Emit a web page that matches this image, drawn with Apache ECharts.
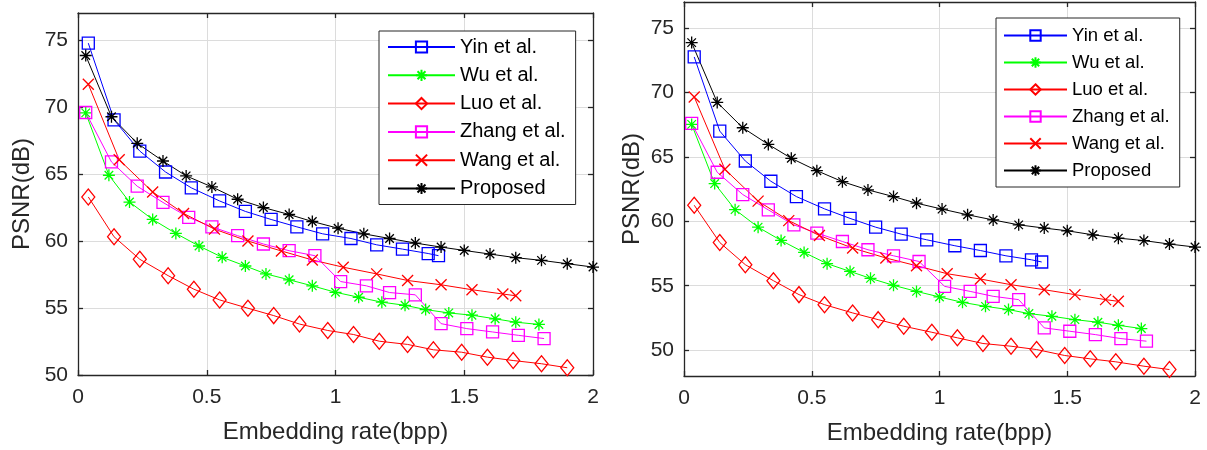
<!DOCTYPE html>
<html>
<head>
<meta charset="utf-8">
<script src="https://cdn.jsdelivr.net/npm/echarts@6/dist/echarts.min.js"></script>
<style>
html, body { margin: 0; padding: 0; background: #fff; }
#main { width: 1207px; height: 450px; }
</style>
</head>
<body>
<div id="main"></div>
<script>
// embedding rates (bpp) per method
var proposedX = [0.03, 0.13, 0.23, 0.33, 0.42, 0.52, 0.62, 0.72, 0.82, 0.91, 1.01, 1.11, 1.21, 1.31, 1.41, 1.5, 1.6, 1.7, 1.8, 1.9, 2.0];
var yinX = [0.04, 0.14, 0.24, 0.34, 0.44, 0.55, 0.65, 0.75, 0.85, 0.95, 1.06, 1.16, 1.26, 1.36, 1.4];
var wuX = [0.03, 0.12, 0.2, 0.29, 0.38, 0.47, 0.56, 0.65, 0.73, 0.82, 0.91, 1.0, 1.09, 1.18, 1.27, 1.35, 1.44, 1.53, 1.62, 1.7, 1.79];
var luoX = [0.04, 0.14, 0.24, 0.35, 0.45, 0.55, 0.66, 0.76, 0.86, 0.97, 1.07, 1.17, 1.28, 1.38, 1.49, 1.59, 1.69, 1.8, 1.9];
var zhangX = [0.03, 0.13, 0.23, 0.33, 0.43, 0.52, 0.62, 0.72, 0.82, 0.92, 1.02, 1.12, 1.21, 1.31, 1.41, 1.51, 1.61, 1.71, 1.81];
var wangX = [0.04, 0.16, 0.29, 0.41, 0.53, 0.66, 0.79, 0.91, 1.03, 1.16, 1.28, 1.41, 1.53, 1.65, 1.7];

// PSNR, left figure
var yinL = [74.75, 69.03, 66.7, 65.14, 63.96, 62.98, 62.2, 61.6, 61.05, 60.53, 60.18, 59.71, 59.39, 59.06, 58.9];
var wuL = [69.55, 64.9, 62.9, 61.6, 60.56, 59.62, 58.78, 58.13, 57.54, 57.1, 56.65, 56.17, 55.8, 55.43, 55.2, 54.88, 54.63, 54.46, 54.19, 53.94, 53.77];
var luoL = [63.28, 60.31, 58.63, 57.41, 56.4, 55.6, 54.98, 54.43, 53.8, 53.32, 53.02, 52.52, 52.28, 51.88, 51.7, 51.33, 51.08, 50.84, 50.54];
var zhangL = [69.58, 65.89, 64.08, 62.87, 61.75, 61.05, 60.39, 59.77, 59.27, 58.9, 56.97, 56.65, 56.15, 55.98, 53.83, 53.46, 53.21, 52.96, 52.72];
var wangL = [71.69, 66.05, 63.65, 62.05, 60.88, 59.99, 59.25, 58.58, 58.04, 57.54, 57.05, 56.73, 56.36, 56.04, 55.91];
var proposedL = [73.83, 69.26, 67.28, 65.96, 64.85, 64.03, 63.11, 62.49, 61.97, 61.45, 60.95, 60.53, 60.18, 59.84, 59.54, 59.29, 59.02, 58.75, 58.55, 58.3, 58.05];

// PSNR, right figure
var yinR = [72.74, 66.99, 64.67, 63.1, 61.91, 60.96, 60.22, 59.54, 59.0, 58.56, 58.1, 57.73, 57.32, 57.01, 56.84];
var wuR = [67.51, 62.92, 60.9, 59.54, 58.51, 57.58, 56.71, 56.11, 55.57, 55.03, 54.56, 54.13, 53.71, 53.4, 53.15, 52.84, 52.63, 52.37, 52.17, 51.93, 51.68];
var luoR = [61.24, 58.35, 56.63, 55.39, 54.31, 53.53, 52.89, 52.37, 51.86, 51.39, 50.96, 50.52, 50.31, 50.05, 49.59, 49.33, 49.1, 48.76, 48.5];
var zhangR = [67.59, 63.8, 62.07, 60.88, 59.72, 59.08, 58.43, 57.79, 57.32, 56.88, 54.95, 54.56, 54.18, 53.92, 51.73, 51.47, 51.21, 50.9, 50.7];
var wangR = [69.64, 64.03, 61.56, 60.05, 58.89, 57.92, 57.15, 56.55, 55.93, 55.52, 55.08, 54.69, 54.31, 53.92, 53.79];
var proposedR = [73.85, 69.21, 67.25, 65.96, 64.88, 63.92, 63.07, 62.43, 61.91, 61.4, 60.94, 60.5, 60.1, 59.72, 59.47, 59.26, 58.95, 58.69, 58.5, 58.23, 58.0];

var names = ['Yin et al.', 'Wu et al.', 'Luo et al.', 'Zhang et al.', 'Wang et al.', 'Proposed'];
var yTicks = [50, 55, 60, 65, 70, 75];
var xTicks = [0, 0.5, 1, 1.5, 2];

var FONT = 'Liberation Sans, Arial, Helvetica, sans-serif';
var AXC = '#262626';

// MATLAB-like markers (stroke only)
var SQUARE = 'path://M-1,-1L1,-1L1,1L-1,1Z';
var DIAMOND = 'path://M0,-1L1,0L0,1L-1,0Z';
var STAR = 'path://M0,-1L0,1M-1,0L1,0M-0.71,-0.71L0.71,0.71M-0.71,0.71L0.71,-0.71';
var CROSS = 'path://M-1,-1L1,1M-1,1L1,-1';

var styles = [
	{ color : '#0000ff', symbol : SQUARE, size : [12, 12] },
	{ color : '#00ff00', symbol : STAR, size : [12, 12] },
	{ color : '#ff0000', symbol : DIAMOND, size : [13, 16] },
	{ color : '#ff00ff', symbol : SQUARE, size : [12, 12] },
	{ color : '#ff0000', symbol : CROSS, size : [11, 11] },
	{ color : '#000000', symbol : STAR, size : [12, 12] }
];

function pairs(xs, ys) {
	var res = [];
	for (var i = 0; i < ys.length; i++) {
		res.push([xs[i], ys[i]]);
	}
	return res;
}

function makeSeries(k, xIdx, yIdx, xs, ys) {
	var s = styles[k];
	return {
		name : names[k],
		type : 'line',
		xAxisIndex : xIdx,
		yAxisIndex : yIdx,
		data : pairs(xs, ys),
		symbol : s.symbol,
		symbolSize : s.size,
		showAllSymbol : true,
		lineStyle : { color : s.color, width : 1 },
		itemStyle : { color : 'transparent', borderColor : s.color, borderWidth : 1.3 },
		emphasis : { disabled : true }
	};
}

function mainX(grid, name) {
	return {
		type : 'value', gridIndex : grid, min : 0, max : 2, interval : 0.5,
		name : name, nameLocation : 'middle', nameGap : 45,
		nameTextStyle : { fontFamily : FONT, fontSize : 24, color : AXC },
		axisLine : { show : true, onZero : false, lineStyle : { color : AXC, width : 1.3 } },
		axisTick : { show : true, inside : true, length : 5, lineStyle : { color : AXC, width : 1.3 } },
		axisLabel : { fontFamily : FONT, fontSize : 21, color : AXC, margin : 12,
			formatter : function(v) { return String(v); } },
		splitLine : { show : true, lineStyle : { color : '#dcdcdc', width : 1 } }
	};
}

function topX(grid) {
	return {
		type : 'value', gridIndex : grid, min : 0, max : 2, interval : 0.5, position : 'top',
		axisLine : { show : true, onZero : false, lineStyle : { color : AXC, width : 1.3 } },
		axisTick : { show : true, inside : true, length : 5, lineStyle : { color : AXC, width : 1.3 } },
		axisLabel : { show : false },
		splitLine : { show : false }
	};
}

function mainY(grid, min, gap) {
	return {
		type : 'value', gridIndex : grid, min : min, max : 77,
		name : 'PSNR(dB)', nameLocation : 'middle', nameGap : gap, nameRotate : 90,
		nameTextStyle : { fontFamily : FONT, fontSize : 24, color : AXC },
		axisLine : { show : true, onZero : false, lineStyle : { color : AXC, width : 1.3 } },
		axisTick : { show : true, inside : true, length : 5, customValues : yTicks,
			lineStyle : { color : AXC, width : 1.3 } },
		axisLabel : { fontFamily : FONT, fontSize : 21, color : AXC, margin : 10, customValues : yTicks },
		splitLine : { show : true, lineStyle : { color : '#dcdcdc', width : 1 } }
	};
}

function rightY(grid, min) {
	return {
		type : 'value', gridIndex : grid, min : min, max : 77, position : 'right',
		axisLine : { show : true, onZero : false, lineStyle : { color : AXC, width : 1.3 } },
		axisTick : { show : true, inside : true, length : 5, customValues : yTicks,
			lineStyle : { color : AXC, width : 1.3 } },
		axisLabel : { show : false },
		splitLine : { show : false }
	};
}

function makeLegend(left, top, fs, ih, gap, iw, pad) {
	return {
		orient : 'vertical', left : left, top : top, padding : pad,
		itemWidth : iw, itemHeight : ih, itemGap : gap,
		backgroundColor : '#fff', borderColor : AXC, borderWidth : 1,
		selectedMode : false,
		textStyle : { fontFamily : FONT, fontSize : fs, lineHeight : fs, color : '#000' },
		data : names
	};
}

var series = [];
var leftY = [yinL, wuL, luoL, zhangL, wangL, proposedL];
var rightYv = [yinR, wuR, luoR, zhangR, wangR, proposedR];
var xsList = [yinX, wuX, luoX, zhangX, wangX, proposedX];
for (var k = 0; k < 6; k++) {
	series.push(makeSeries(k, 0, 0, xsList[k], leftY[k]));
}
for (var k = 0; k < 6; k++) {
	series.push(makeSeries(k, 2, 2, xsList[k], rightYv[k]));
}

var myChart = echarts.init(document.getElementById('main'), null, { renderer : 'canvas' });

var option = {
	animation : false,
	backgroundColor : '#fff',
	grid : [
		{ left : 78, top : 13, width : 515, height : 362 },
		{ left : 684, top : 2, width : 511, height : 374 }
	],
	xAxis : [ mainX(0, 'Embedding rate(bpp)'), topX(0), mainX(1, 'Embedding rate(bpp)'), topX(1) ],
	yAxis : [ mainY(0, 50, 44), rightY(0, 50), mainY(1, 48, 40), rightY(1, 48) ],
	legend : [
		makeLegend(379, 31, 20, 14, 8.3, 67, [6, 10, 6, 8]),
		makeLegend(996, 18, 18.5, 13, 8, 63, [8, 10, 7, 7])
	],
	series : series
};

myChart.setOption(option);
</script>
</body>
</html>
